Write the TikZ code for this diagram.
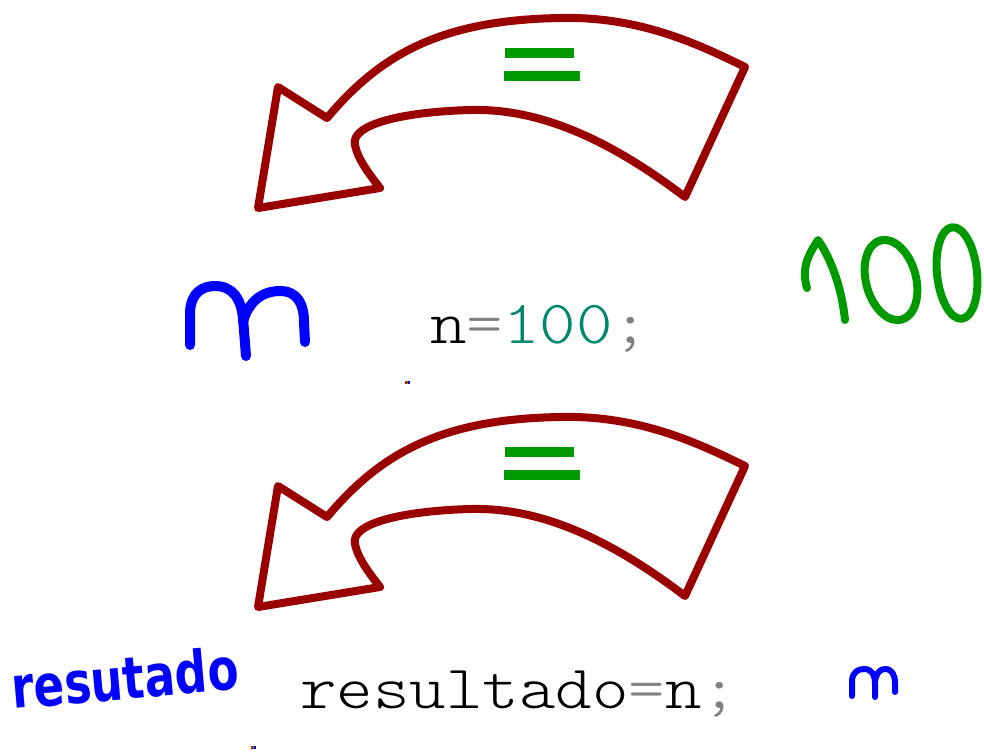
\documentclass[tikz,border=0pt]{standalone}
\usepackage{xcolor}
\usepackage{fontspec}
\usepackage{tikz}
\newfontfamily\handfont{DejaVu Sans}
\newfontfamily\codefont{lmmonolt10-regular.otf}
\definecolor{arrowred}{RGB}{153,0,0}
\definecolor{handgreen}{RGB}{0,153,0}
\definecolor{numteal}{RGB}{0,135,110}
\definecolor{opgray}{RGB}{128,128,128}
\definecolor{penblue}{RGB}{0,0,255}

\begin{document}
\begin{tikzpicture}[x=0.02cm,y=-0.02cm,
  eqarrow/.style={arrowred,line width=0.16cm,line join=round},
  eqbar/.style={handgreen,line width=0.2cm},
  hand/.style={line width=0.2cm,line cap=round,line join=round},
  code/.style={inner sep=0pt,anchor=base west,font=\codefont\fontsize{35}{40}\selectfont}]
\useasboundingbox (0,0) rectangle (984,755);
% the two "=" arrows
\foreach \dy in {0,399} {
\begin{scope}[shift={(0,\dy)}]
\draw[eqarrow] (258,208) -- (278,87) -- (327,118) .. controls (380,55) and (440,20) .. (560,18)
  .. controls (640,16) and (700,45) .. (745,67) -- (685,197)
  .. controls (610,140) and (540,108) .. (470,110) .. controls (400,112) and (350,125) .. (355,145)
  .. controls (358,160) and (370,175) .. (380,188) -- cycle;
\draw[eqbar] (505,53) -- (574,53);
\draw[eqbar] (504,76) -- (580,76);
\end{scope}
}
% code lines
\node[code] (assign) at (430,343) {\scalebox{1.13}[1]{n\textcolor{opgray}{=}\textcolor{numteal}{100}\textcolor{opgray}{;}}};
\node[code] (copy) at (300,708) {\scalebox{1.13}[1]{resultado\textcolor{opgray}{=}n\textcolor{opgray}{;}}};
% handwritten notes
\draw[hand,penblue] (190,345) -- (190,312) .. controls (191,292) and (203,286) .. (215,286)
  .. controls (232,286) and (241,298) .. (243,318) -- (246,356);
\draw[hand,penblue] (243,322) .. controls (248,302) and (262,291) .. (280,291)
  .. controls (298,291) and (304,305) .. (304,322) -- (305,342);
\draw[hand,handgreen,line width=0.16cm] (807,288) .. controls (800,265) and (812,250) .. (818,240)
  .. controls (832,260) and (842,290) .. (845,320);
\draw[hand,handgreen,line width=0.16cm,rotate around={15:(891,280)}] (891,280) ellipse [x radius=25,y radius=41];
\draw[hand,handgreen,line width=0.16cm,rotate around={6:(957,273)}] (957,273) ellipse [x radius=20,y radius=46];
\node[inner sep=0pt,anchor=base west,rotate=5,text=penblue,font=\handfont\bfseries\fontsize{33}{35}\selectfont] (name) at (13,709) {\scalebox{0.78}[1]{resutado}};
\draw[hand,penblue,line width=0.12cm] (852,696) -- (852,680) .. controls (853,672) and (858,669) .. (864,669)
  .. controls (872,669) and (875,675) .. (875,684) -- (875,697);
\draw[hand,penblue,line width=0.12cm] (875,682) .. controls (876,673) and (880,669) .. (885,669)
  .. controls (892,669) and (895,675) .. (895,683) -- (895,692);
% stray pixels
\foreach \c/\i in {red/0,green!70!black/1,penblue/2} {
  \fill[\c] ({405+1.5*\i},381) rectangle ++(1.5,3);
  \fill[\c] ({251+1.5*\i},746) rectangle ++(1.5,3);
}
\end{tikzpicture}
\end{document}
